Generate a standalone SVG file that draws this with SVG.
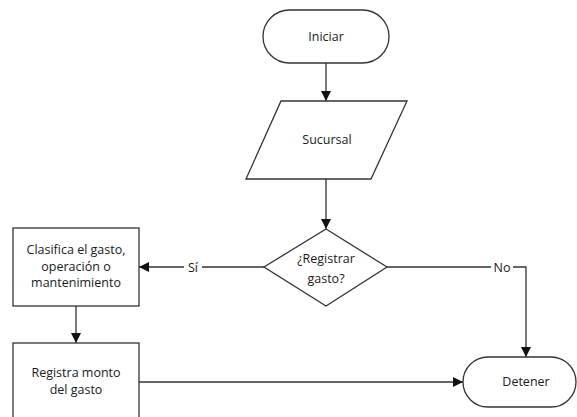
<svg xmlns="http://www.w3.org/2000/svg" width="577" height="417" viewBox="0 0 577 417">
<style>
.s{fill:#fff;stroke:#333;stroke-width:1.3}
.c{fill:none;stroke:#333;stroke-width:1.3}
.t{font-family:"Open Sans","Noto Sans",sans-serif;font-size:12.5px;fill:#1a1a1a;text-anchor:middle}
</style>
<defs>
<marker id="ah" viewBox="0 0 10 10" refX="10" refY="5" markerWidth="10" markerHeight="10" markerUnits="userSpaceOnUse" orient="auto">
<path d="M0,0 L10,5 L0,10 z" fill="#111"/>
</marker>
</defs>
<rect width="577" height="417" fill="#fff"/>
<g id="connectors">
<line class="c" x1="326" y1="63" x2="326" y2="101" marker-end="url(#ah)"/>
<line class="c" x1="326" y1="179" x2="326" y2="229" marker-end="url(#ah)"/>
<line class="c" x1="264" y1="267" x2="139" y2="267" marker-end="url(#ah)"/>
<polyline class="c" points="387,267 526,267 526,357" marker-end="url(#ah)"/>
<line class="c" x1="76" y1="306" x2="76" y2="343" marker-end="url(#ah)"/>
<line class="c" x1="139" y1="382" x2="463" y2="382" marker-end="url(#ah)"/>
<rect x="184" y="259" width="18" height="16" fill="#fff"/>
<text class="t" x="193" y="271.5">Sí</text>
<rect x="491" y="259" width="22" height="16" fill="#fff"/>
<text class="t" x="502" y="271.5">No</text>
</g>
<g id="iniciar">
<rect class="s" x="263" y="10" width="126" height="53" rx="26.5"/>
<text class="t" x="326" y="41">Iniciar</text>
</g>
<g id="sucursal">
<polygon class="s" points="281,101 407,101 371,179 246,179"/>
<text class="t" x="327" y="144">Sucursal</text>
</g>
<g id="registrar">
<polygon class="s" points="326,229 387,267 326,306 264,267"/>
<text class="t" x="326" y="262.5">¿Registrar</text>
<text class="t" x="326" y="282.5">gasto?</text>
</g>
<g id="clasifica">
<rect class="s" x="13" y="228" width="126" height="78"/>
<text class="t" x="76" y="254">Clasifica el gasto,</text>
<text class="t" x="76" y="270.5">operación o</text>
<text class="t" x="76" y="287">mantenimiento</text>
</g>
<g id="registra">
<rect class="s" x="13" y="343" width="126" height="80"/>
<text class="t" x="76" y="377">Registra monto</text>
<text class="t" x="76" y="394">del gasto</text>
</g>
<g id="detener">
<rect class="s" x="463" y="357" width="113" height="50" rx="25"/>
<text class="t" x="526" y="386">Detener</text>
</g>
</svg>
